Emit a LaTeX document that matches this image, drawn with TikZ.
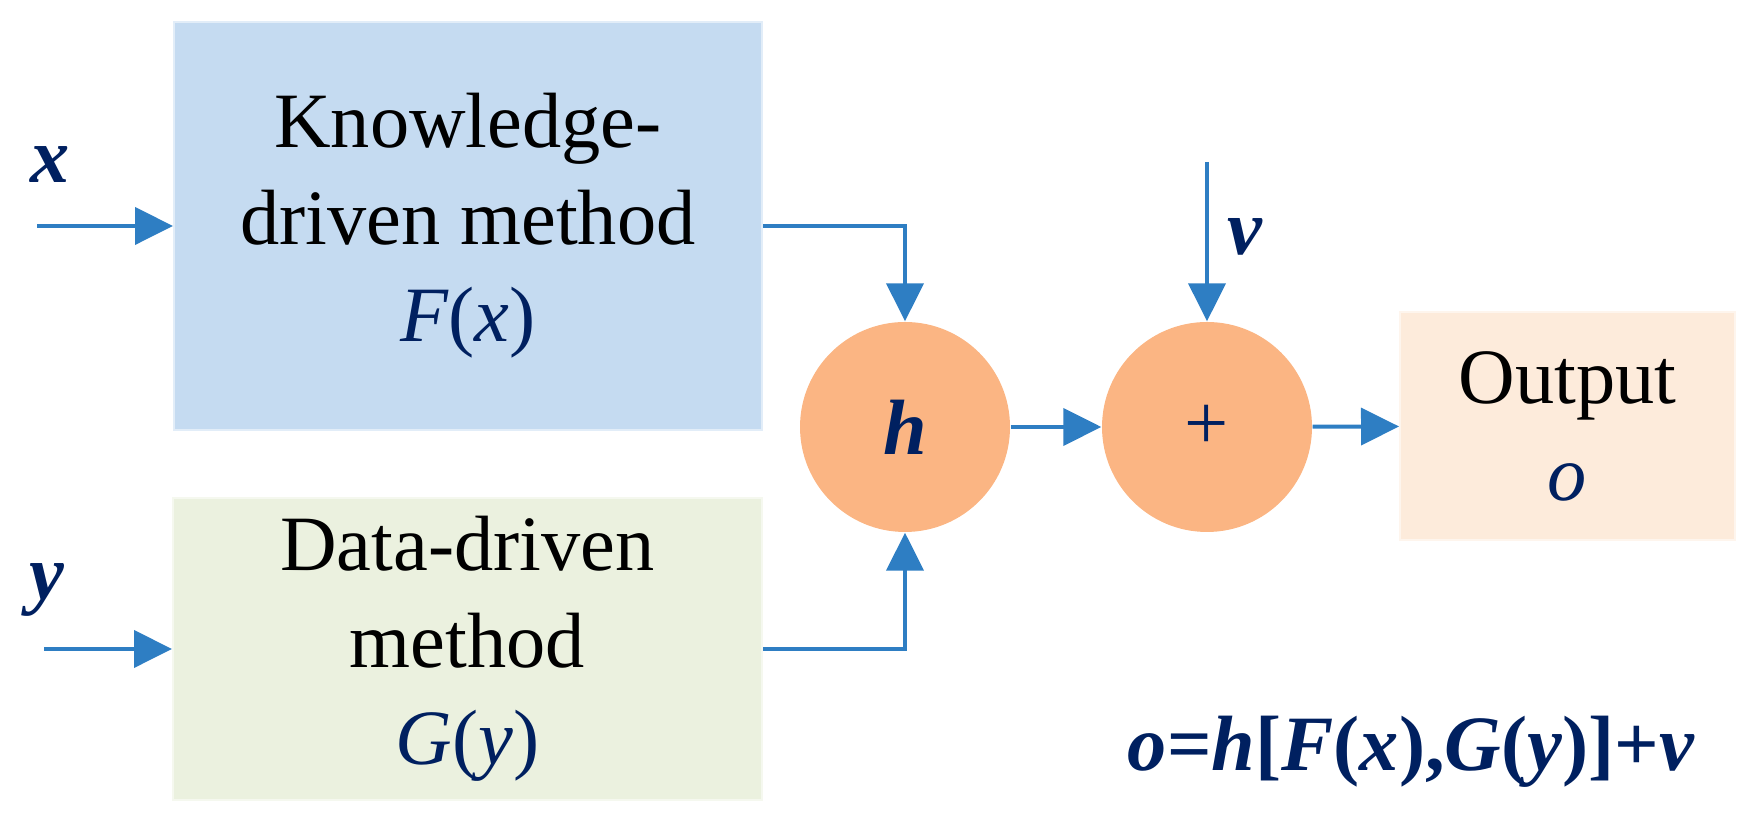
\documentclass[tikz,border=0pt]{standalone}
\usepackage{fontspec}
\setmainfont{Liberation Serif}
\usetikzlibrary{arrows.meta}
\definecolor{arrowblue}{HTML}{2E7EC3}
\definecolor{inkblue}{HTML}{002060}
\definecolor{kfill}{HTML}{C5DBF1}
\definecolor{dfill}{HTML}{EBF1DF}
\definecolor{ofill}{HTML}{FDEBDB}
\definecolor{opfill}{HTML}{FBB583}
\tikzset{
  blockbox/.style={inner sep=0pt, align=center, line width=0.02cm,
    font=\fontsize{22.3}{27.6}\selectfont},
  opnode/.style={circle, fill=opfill, minimum size=2.1cm, inner sep=0pt,
    text=inkblue, font=\fontsize{22.3}{27.6}\selectfont},
  flow/.style={arrowblue, line width=0.04cm, -{Triangle[length=0.38cm,width=0.37cm]}},
  sig/.style={text=inkblue, font=\fontsize{22.3}{27.6}\selectfont\bfseries\itshape}
}
\begin{document}
\begin{tikzpicture}
  \useasboundingbox (0,0) rectangle (17.41,8.15);
  % blocks
  \node[blockbox, fill=kfill, draw=kfill!50!white, minimum width=5.88cm, minimum height=4.08cm]
    (know) at (4.68,5.89) {Knowledge-\\driven method\\\textcolor{inkblue}{\textit{F}(\textit{x})}};
  \node[blockbox, fill=dfill, draw=dfill!50!white, minimum width=5.89cm, minimum height=3.02cm]
    (data) at (4.675,1.66) {Data-driven\\method\\\textcolor{inkblue}{\textit{G}(\textit{y})}};
  \node[opnode] (h) at (9.05,3.88) {\textbf{\textit{h}}};
  \node[opnode] (plus) at (12.07,3.88) {+};
  \node[blockbox, fill=ofill, draw=ofill!50!white, minimum width=3.35cm, minimum height=2.28cm]
    (out) at (15.675,3.89) {Output\\\textcolor{inkblue}{\textit{o}}};
  % inputs
  \coordinate (xin) at (0.37,5.89);
  \coordinate (yin) at (0.44,1.66);
  \coordinate (vin) at (12.07,6.53);
  \node[sig] (xlab) at (0.50,6.50) {x};
  \node[sig] (ylab) at (0.47,2.25) {y};
  \node[sig] (vlab) at (12.45,5.78) {v};
  % connectors
  \draw[flow] (xin) -- (know.west);
  \draw[flow] (yin) -- (data.west);
  \draw[flow] (know.east) -| (h.north);
  \draw[flow] (data.east) -| (h.south);
  \draw[flow] (h) -- (plus);
  \draw[flow] (vin) -- (plus.north);
  \draw[flow] (plus) -- (out);
  \node[sig, anchor=base] (formula) at (14.11,0.44)
    {o\textup{=}h\textup{[}F\textup{(}x\textup{),}G\textup{(}y\textup{)]+}v};
\end{tikzpicture}
\end{document}
